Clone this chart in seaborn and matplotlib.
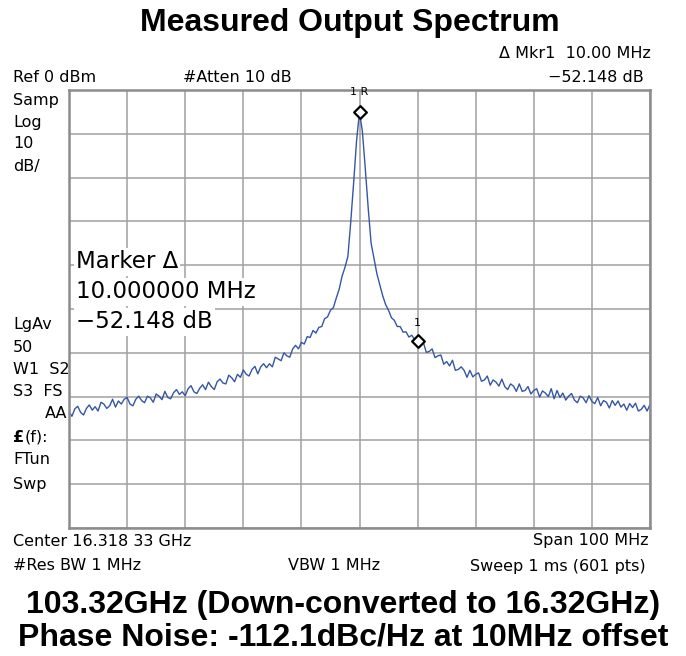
import numpy as np
import pandas as pd
import matplotlib
matplotlib.use("Agg")
import matplotlib.pyplot as plt
import seaborn as sns

# ---------------- data ----------------
SPAN_MHZ = 100.0
STEP_MHZ = 0.5
# levels in dBm, offsets -50 ... -10.5 MHz
LEFT_FLOOR = [
    -73.4, -74.5, -72.8, -72.2, -73.6, -74.2, -72.7, -71.9, -73.1, -72.3,
    -73.3, -71.3, -71.7, -72.7, -72.1, -70.6, -72.4, -71.0, -71.7, -70.6,
    -70.2, -71.7, -72.1, -70.6, -69.9, -70.9, -71.4, -69.9, -70.3, -71.3,
    -69.4, -69.9, -70.7, -68.8, -70.2, -70.5, -69.1, -68.4, -69.5, -68.9,
    -69.8, -68.2, -67.5, -68.9, -69.3, -68.1, -67.3, -68.4, -66.7, -67.7,
    -68.4, -66.6, -66.0, -66.9, -67.1, -65.1, -65.7, -66.6, -64.9, -65.6,
    -63.9, -64.9, -65.3, -63.8, -63.1, -64.8, -63.2, -62.5, -63.4, -62.5,
    -63.2, -61.0, -61.4, -61.8, -60.0, -60.7, -61.0, -59.1, -58.3, -59.1,
]
# offsets -10 ... -0.5 MHz
LEFT_SKIRT = [
    -57.6, -58.0, -56.3, -56.5, -54.9, -55.5, -54.2, -54.0, -52.2, -51.8,
    -50.3, -49.7, -47.5, -45.5, -42.5, -40.5, -38.0, -30.0, -21.0, -11.5,
]
PEAK = [-5.05]
# offsets 0.5 ... 10 MHz
RIGHT_SKIRT = [
    -9.5, -18.0, -27.0, -35.0, -38.5, -42.0, -44.5, -47.0, -49.0, -50.3,
    -52.0, -52.6, -54.0, -54.0, -55.3, -55.2, -56.4, -56.0, -57.0, -57.2,
]
# offsets 10.5 ... 50 MHz
RIGHT_FLOOR = [
    -58.2, -57.7, -59.9, -59.7, -59.1, -61.1, -60.7, -60.5, -62.6, -62.0,
    -63.0, -61.7, -64.0, -63.8, -63.2, -64.0, -65.6, -64.0, -65.5, -64.9,
    -64.6, -66.5, -66.2, -65.3, -67.4, -66.2, -66.7, -67.6, -66.0, -67.7,
    -68.4, -67.1, -67.6, -68.8, -67.1, -68.8, -68.6, -67.7, -69.4, -68.6,
    -68.2, -70.1, -68.7, -69.2, -70.0, -68.2, -70.5, -68.6, -70.2, -69.2,
    -70.8, -69.9, -69.3, -70.8, -71.4, -69.9, -70.3, -71.4, -69.8, -71.1,
    -71.6, -70.2, -72.1, -70.9, -71.3, -72.6, -70.9, -72.0, -71.0, -72.4,
    -71.7, -73.1, -71.6, -72.5, -71.5, -73.3, -72.9, -72.0, -73.3, -71.8,
]
MARKER_OFFSETS = [0.0, 10.0]
MARKER_LABELS = ["1 R", "1"]

levels = LEFT_FLOOR + LEFT_SKIRT + PEAK + RIGHT_SKIRT + RIGHT_FLOOR
offsets = np.arange(-SPAN_MHZ / 2, SPAN_MHZ / 2 + STEP_MHZ / 2, STEP_MHZ)
df = pd.DataFrame({"offset": offsets, "level": levels})
mk = df[df["offset"].isin(MARKER_OFFSETS)].reset_index(drop=True)

# ---------------- figure ----------------
sns.set_theme(style="white")
plt.rcParams["font.family"] = ["DejaVu Sans"]
plt.rcParams["text.color"] = "black"

W, H = 686, 656
fig = plt.figure(figsize=(W / 100, H / 100), dpi=100)
ax = fig.add_axes([69 / W, 1 - 528 / H, 581 / W, 438 / H])

GRID = "#a0a0a0"
ax.set_xlim(-50, 50)
ax.set_ylim(-100, 0)
ax.set_xticks(np.linspace(-50, 50, 11))
ax.set_yticks(np.linspace(-100, 0, 11))
ax.tick_params(length=0, labelbottom=False, labelleft=False)
ax.grid(True, color=GRID, linewidth=1.1)
for s in ax.spines.values():
    s.set_color("#8c8c8c")
    s.set_linewidth(1.8)

sns.lineplot(data=df, x="offset", y="level", ax=ax, color="#3556a6",
             linewidth=1.0, legend=False)
sns.scatterplot(data=mk, x="offset", y="level", ax=ax, marker="D", s=42,
                facecolor="white", edgecolor="black", linewidth=1.6,
                zorder=5, legend=False)
ax.set_xlabel("")
ax.set_ylabel("")
for i, row in mk.iterrows():
    ax.annotate(MARKER_LABELS[i], (row["offset"], row["level"]),
                xytext=(0, 11 if i == 0 else 9), textcoords="offset points",
                ha="center", va="bottom", fontsize=8, color="black")

# ---------------- texts ----------------
def ftxt(x, y, s, **kw):
    fig.text(x / W, 1 - y / H, s, va="center", **kw)

INST = dict(fontsize=11.5, color="black")
BIG = dict(fontsize=23, fontweight="bold", color="black",
           family=["Liberation Sans", "DejaVu Sans"])
ftxt(350, 23, "Measured Output Spectrum", ha="center", **BIG)
ftxt(651, 54, "Δ Mkr1  10.00 MHz", ha="right", **INST)
ftxt(13, 77, "Ref 0 dBm", ha="left", **INST)
ftxt(183, 77, "#Atten 10 dB", ha="left", **INST)
ftxt(644, 77, "−52.148 dB", ha="right", **INST)

left_top = ["Samp", "Log", "10", "dB/"]
for i, s in enumerate(left_top):
    ftxt(13, 100 + 22 * i, s, ha="left", **INST)
left_mid = [("LgAv", 325), ("50", 347), ("W1  S2", 369), ("S3  FS", 391)]
for s, y in left_mid:
    ftxt(13, y, s, ha="left", **INST)
ftxt(67, 414, "AA", ha="right", **INST)
ftxt(13, 437, "£", ha="left", fontweight="bold", fontsize=11.5, color="black")
ftxt(25, 437, "(f):", ha="left", **INST)
ftxt(13, 460, "FTun", ha="left", **INST)
ftxt(13, 484, "Swp", ha="left", **INST)

ftxt(13, 541, "Center 16.318 33 GHz", ha="left", **INST)
ftxt(649, 541, "Span 100 MHz", ha="right", **INST)
ftxt(13, 566, "#Res BW 1 MHz", ha="left", **INST)
ftxt(288, 566, "VBW 1 MHz", ha="left", **INST)
ftxt(646, 566, "Sweep 1 ms (601 pts)", ha="right", **INST)

BOX = dict(facecolor="white", edgecolor="none", pad=1.5)
for s, y in [("Marker Δ", 262), ("10.000000 MHz", 292), ("−52.148 dB", 322)]:
    ftxt(76, y, s, ha="left", fontsize=16.5, color="black", bbox=BOX, zorder=6)

ftxt(343, 605, "103.32GHz (Down-converted to 16.32GHz)", ha="center", **BIG)
ftxt(343, 638, "Phase Noise: -112.1dBc/Hz at 10MHz offset", ha="center", **BIG)

fig.savefig("out.png", dpi=100)
